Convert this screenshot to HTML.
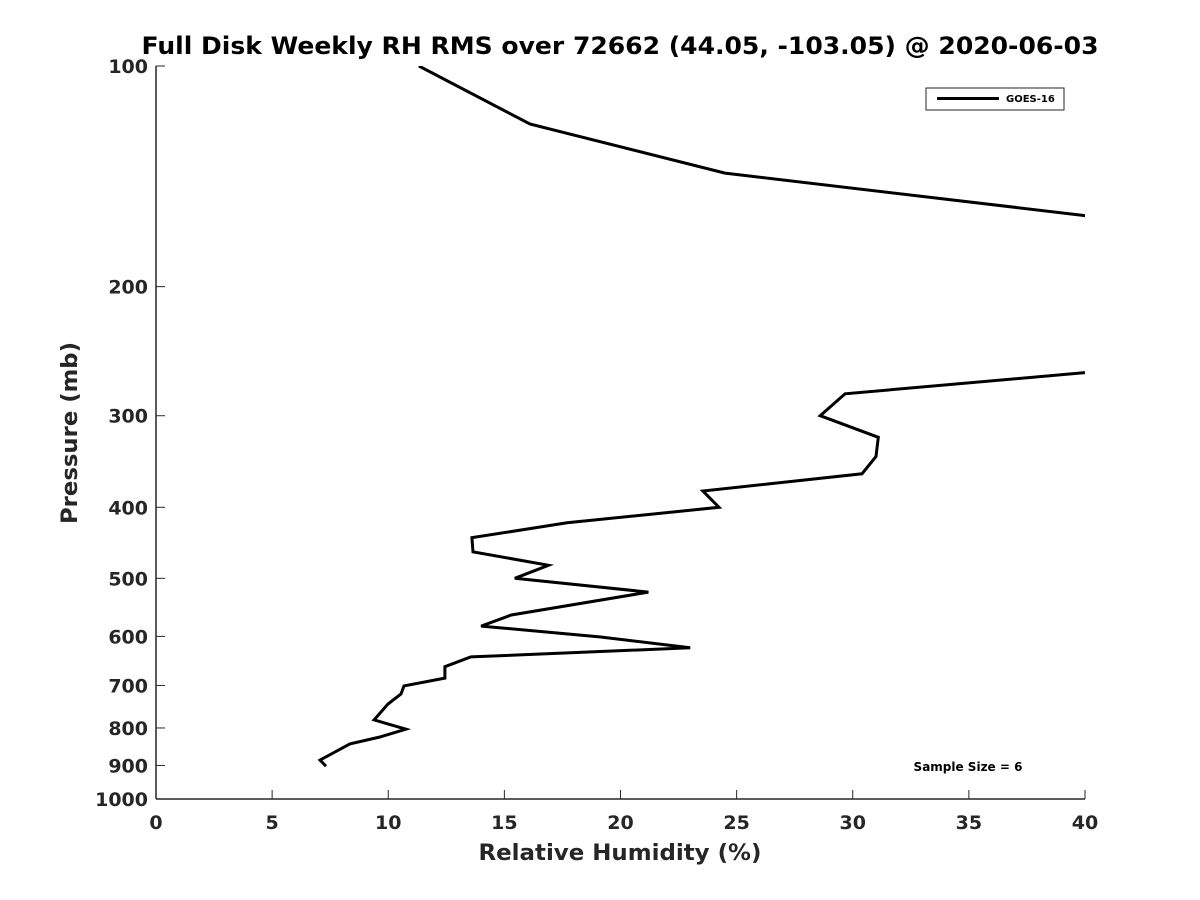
<!DOCTYPE html>
<html><head><meta charset="utf-8"><style>
body{margin:0;background:#fff;}
svg{display:block;font-family:"DejaVu Sans","Liberation Sans",sans-serif;font-weight:bold;}
</style></head><body>
<svg id="chart" width="1200" height="900" viewBox="0 0 1200 900" xmlns="http://www.w3.org/2000/svg">
<rect width="1200" height="900" fill="#fff"/>
<defs><clipPath id="plotclip"><rect x="156" y="66" width="929" height="733"/></clipPath></defs>
<text x="620" y="54" text-anchor="middle" font-size="24" textLength="957" lengthAdjust="spacingAndGlyphs" fill="#000">Full Disk Weekly RH RMS over 72662 (44.05, -103.05) @ 2020-06-03</text>
<g id="axes"></g>
<g id="series" clip-path="url(#plotclip)"></g>
<text x="620" y="860" text-anchor="middle" font-size="22" textLength="283" lengthAdjust="spacingAndGlyphs" fill="#262626">Relative Humidity (%)</text>
<text transform="translate(77,433) rotate(-90)" text-anchor="middle" font-size="22" textLength="182" lengthAdjust="spacingAndGlyphs" fill="#262626">Pressure (mb)</text>
<g>
<rect x="926" y="88" width="138" height="22" fill="#fff" stroke="#262626" stroke-width="1"/>
<line x1="937" y1="98.5" x2="999" y2="98.5" stroke="#000" stroke-width="3"/>
<text x="1006" y="102" font-size="10" fill="#000">GOES-16</text>
</g>
<text x="968" y="771" text-anchor="middle" font-size="12" fill="#000">Sample Size = 6</text>
</svg>
<script>
const xTicks = [0,5,10,15,20,25,30,35,40];
const yTicks = [100,200,300,400,500,600,700,800,900,1000];
const pressures = [100,120,140,160,200,262,280,300,321,341,360,380,400,420,440,460,480,500,522,561,581,601,622,640,660,684,701,719,742,780,803,823,841,885,902];
const rhValues = [11.32,16.1,24.5,40.0,60.0,40.0,29.67,28.6,31.1,31.0,30.4,23.55,24.24,17.7,13.6,13.65,16.9,15.45,21.2,15.3,14.0,19.1,23.0,13.56,12.44,12.44,10.68,10.55,9.99,9.39,10.76,9.64,8.35,7.06,7.32];

const X0=156,X1=1085,Y0=66,Y1=799;
const xs = v => X0 + (v-0)/(40-0)*(X1-X0);
const ys = p => Y0 + Math.log10(p/100)/Math.log10(10)*(Y1-Y0);
const NS="http://www.w3.org/2000/svg";
const axes=document.getElementById('axes');
function mk(tag,attrs,parent){const e=document.createElementNS(NS,tag);for(const k in attrs)e.setAttribute(k,attrs[k]);parent.appendChild(e);return e;}
const yAxis=mk('line',{x1:X0,y1:Y0,x2:X0,y2:Y1,stroke:'#262626','stroke-width':1.5},axes);


const xAxis=mk('line',{x1:X0,y1:Y1,x2:X1,y2:Y1,stroke:'#262626','stroke-width':1.5},axes);


xTicks.forEach(t=>{
  const x=xs(t);
  const tk=mk('line',{x1:x,y1:Y1,x2:x,y2:Y1-9,stroke:'#262626','stroke-width':1},axes);
  
  
  const lb=mk('text',{x:x,y:Y1+30,'text-anchor':'middle','font-size':19,fill:'#262626'},axes);
  lb.textContent=t;
  
  
});
yTicks.forEach(t=>{
  const y=ys(t);
  const tk=mk('line',{x1:X0,y1:y,x2:X0+9,y2:y,stroke:'#262626','stroke-width':1},axes);
  
  
  const lb=mk('text',{x:X0-8,y:y+7,'text-anchor':'end','font-size':19,fill:'#262626'},axes);
  lb.textContent=t;
  
  
});
const series=document.getElementById('series');
const d=pressures.map((p,i)=>(i?'L':'M')+xs(rhValues[i]).toFixed(1)+','+ys(p).toFixed(1)).join(' ');
const path=mk('path',{d:d,fill:'none',stroke:'#000','stroke-width':3,'stroke-linejoin':'miter'},series);


</script>
</body></html>
